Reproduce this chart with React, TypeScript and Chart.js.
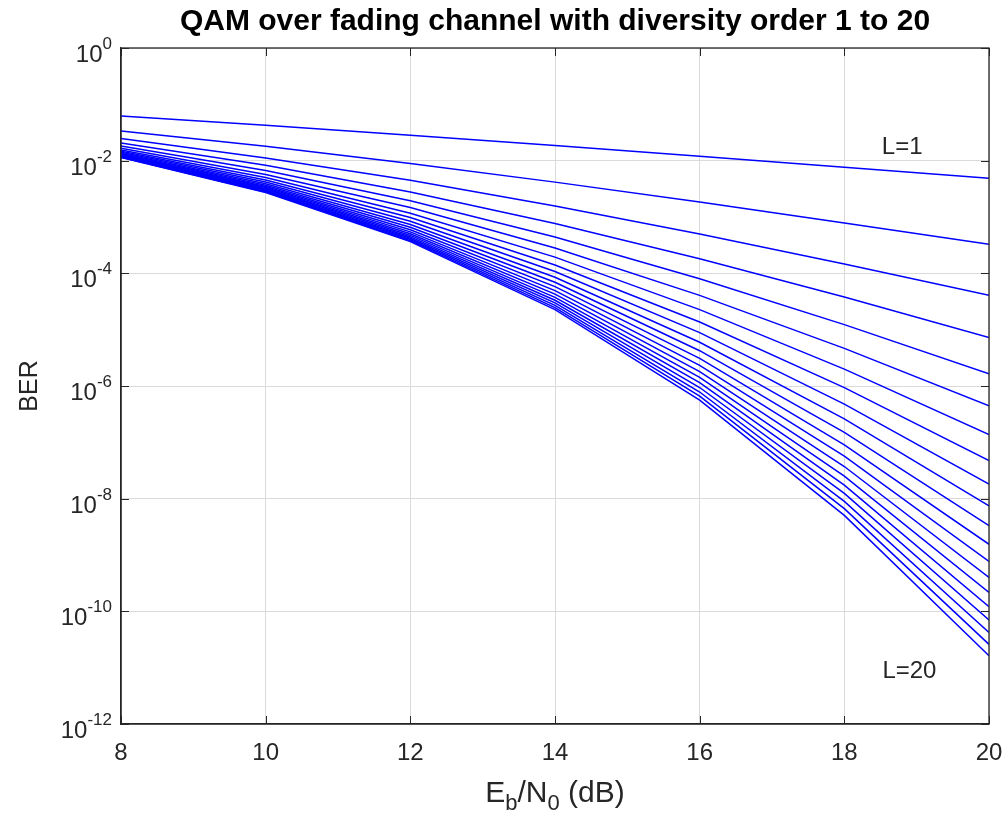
import React, { useEffect, useRef } from 'react';
import { Chart, registerables } from 'chart.js';

Chart.register(...registerables);

// Eb/N0 grid (dB)
const EBN0_DB = [8, 10, 12, 14, 16, 18, 20];

// BER, one array per diversity order L
const BER_L1 = [6.19e-2, 4.24e-2, 2.82e-2, 1.85e-2, 1.20e-2, 7.66e-3, 4.89e-3];
const BER_L2 = [3.37e-2, 1.80e-2, 8.95e-3, 4.16e-3, 1.84e-3, 7.85e-4, 3.27e-4];
const BER_L3 = [2.48e-2, 1.12e-2, 4.47e-3, 1.57e-3, 4.98e-4, 1.47e-4, 4.08e-5];
const BER_L4 = [2.06e-2, 8.32e-3, 2.77e-3, 7.67e-4, 1.82e-4, 3.81e-5, 7.28e-6];
const BER_L5 = [1.82e-2, 6.71e-3, 1.94e-3, 4.41e-4, 8.04e-5, 1.23e-5, 1.64e-6];
const BER_L6 = [1.66e-2, 5.70e-3, 1.47e-3, 2.81e-4, 4.06e-5, 4.65e-6, 4.43e-7];
const BER_L7 = [1.55e-2, 5.02e-3, 1.17e-3, 1.94e-4, 2.27e-5, 1.99e-6, 1.37e-7];
const BER_L8 = [1.47e-2, 4.54e-3, 9.77e-4, 1.41e-4, 1.37e-5, 9.35e-7, 4.75e-8];
const BER_L9 = [1.41e-2, 4.18e-3, 8.38e-4, 1.08e-4, 8.85e-6, 4.78e-7, 1.81e-8];
const BER_L10 = [1.35e-2, 3.89e-3, 7.35e-4, 8.53e-5, 5.98e-6, 2.60e-7, 7.48e-9];
const BER_L11 = [1.31e-2, 3.66e-3, 6.56e-4, 6.95e-5, 4.23e-6, 1.50e-7, 3.31e-9];
const BER_L12 = [1.28e-2, 3.48e-3, 5.94e-4, 5.81e-5, 3.09e-6, 9.04e-8, 1.55e-9];
const BER_L13 = [1.25e-2, 3.33e-3, 5.45e-4, 4.93e-5, 2.33e-6, 5.69e-8, 7.69e-10];
const BER_L14 = [1.23e-2, 3.21e-3, 5.05e-4, 4.28e-5, 1.80e-6, 3.72e-8, 3.99e-10];
const BER_L15 = [1.20e-2, 3.10e-3, 4.71e-4, 3.75e-5, 1.42e-6, 2.51e-8, 2.16e-10];
const BER_L16 = [1.19e-2, 3.00e-3, 4.43e-4, 3.33e-5, 1.15e-6, 1.74e-8, 1.21e-10];
const BER_L17 = [1.17e-2, 2.92e-3, 4.19e-4, 2.99e-5, 9.40e-7, 1.24e-8, 7.03e-11];
const BER_L18 = [1.16e-2, 2.85e-3, 3.98e-4, 2.70e-5, 7.82e-7, 8.97e-9, 4.21e-11];
const BER_L19 = [1.15e-2, 2.79e-3, 3.80e-4, 2.47e-5, 6.59e-7, 6.65e-9, 2.59e-11];
const BER_L20 = [1.14e-2, 2.73e-3, 3.65e-4, 2.27e-5, 5.62e-7, 5.04e-9, 1.63e-11];

const SERIES = [
  BER_L1, BER_L2, BER_L3, BER_L4, BER_L5, BER_L6, BER_L7, BER_L8, BER_L9, BER_L10,
  BER_L11, BER_L12, BER_L13, BER_L14, BER_L15, BER_L16, BER_L17, BER_L18, BER_L19, BER_L20,
];
const SERIES_NAMES = SERIES.map((_, i) => `L=${i + 1}`);

const X_TICKS = [8, 10, 12, 14, 16, 18, 20];
const Y_TICKS = [1, 1e-2, 1e-4, 1e-6, 1e-8, 1e-10, 1e-12];
const Y_TICK_BASE = '10';
const Y_TICK_EXPONENTS = ['0', '-2', '-4', '-6', '-8', '-10', '-12'];

const TITLE = 'QAM over fading channel with diversity order 1 to 20';
const Y_TITLE = 'BER';
const X_TITLE_PARTS: [string, boolean][] = [['E', false], ['b', true], ['/N', false], ['0', true], [' (dB)', false]];
const ANNOTATIONS = [
  { text: 'L=1', x: 18.8, y: 1.75e-2 },
  { text: 'L=20', x: 18.9, y: 8.7e-12 },
];

const FONT = '"Liberation Sans", Arial, Helvetica, sans-serif';
const TEXT = '#262626';
const AXIS = '#262626';
const GRID = '#dadada';
const LINE = '#0000ff';

const boxPlugin = {
  id: 'matlabBox',
  afterDatasetsDraw(chart: any) {
    const { ctx, chartArea } = chart;
    const { left, right, top, bottom } = chartArea;
    const xs = chart.scales.x;
    const ys = chart.scales.y;
    ctx.save();
    ctx.strokeStyle = AXIS;
    ctx.lineWidth = 1.3;
    ctx.strokeRect(left, top, right - left, bottom - top);
    const tl = 8;
    ctx.lineWidth = 1;
    ctx.beginPath();
    X_TICKS.forEach((v) => {
      const px = Math.round(xs.getPixelForValue(v)) + 0.5;
      ctx.moveTo(px, bottom);
      ctx.lineTo(px, bottom - tl);
      ctx.moveTo(px, top);
      ctx.lineTo(px, top + tl);
    });
    Y_TICKS.forEach((v) => {
      const py = Math.round(ys.getPixelForValue(v)) + 0.5;
      ctx.moveTo(left, py);
      ctx.lineTo(left + tl, py);
      ctx.moveTo(right, py);
      ctx.lineTo(right - tl, py);
    });
    ctx.stroke();

    ctx.fillStyle = TEXT;

    // y tick labels: 10 with raised exponent
    ctx.textAlign = 'right';
    ctx.textBaseline = 'alphabetic';
    Y_TICKS.forEach((v, i) => {
      const py = ys.getPixelForValue(v);
      const xr = left - 9;
      ctx.font = `17px ${FONT}`;
      const exp = Y_TICK_EXPONENTS[i];
      const ew = ctx.measureText(exp).width;
      ctx.fillText(exp, xr, py + 1);
      ctx.font = `24px ${FONT}`;
      ctx.fillText(Y_TICK_BASE, xr - ew, py + 14);
    });

    // annotations
    ctx.font = `24px ${FONT}`;
    ctx.textAlign = 'center';
    ctx.textBaseline = 'middle';
    ANNOTATIONS.forEach((a) => {
      ctx.fillText(a.text, xs.getPixelForValue(a.x), ys.getPixelForValue(a.y));
    });

    // x axis title with subscripts
    const base = 30;
    const sub = 22;
    let total = 0;
    X_TITLE_PARTS.forEach(([t, isSub]) => {
      ctx.font = `${isSub ? sub : base}px ${FONT}`;
      total += ctx.measureText(t).width;
    });
    let cx = (left + right) / 2 - total / 2;
    const baseline = 802;
    ctx.textAlign = 'left';
    ctx.textBaseline = 'alphabetic';
    X_TITLE_PARTS.forEach(([t, isSub]) => {
      ctx.font = `${isSub ? sub : base}px ${FONT}`;
      ctx.fillText(t, cx, isSub ? baseline + 8 : baseline);
      cx += ctx.measureText(t).width;
    });
    ctx.restore();
  },
};

export default function App() {
  const ref = useRef<HTMLCanvasElement | null>(null);

  useEffect(() => {
    document.body.style.margin = '0';
    const canvas = ref.current;
    if (!canvas) return;
    const chart = new Chart(canvas, {
      type: 'line',
      data: {
        datasets: SERIES.map((s, i) => ({
          label: SERIES_NAMES[i],
          data: s.map((v, j) => ({ x: EBN0_DB[j], y: v })),
          borderColor: LINE,
          backgroundColor: LINE,
          borderWidth: 1.5,
          pointRadius: 0,
          tension: 0,
          fill: false,
        })),
      },
      options: {
        responsive: false,
        animation: false,
        devicePixelRatio: 1,
        layout: { padding: { left: 0, right: 18, top: 0, bottom: 0 } },
        plugins: {
          legend: { display: false },
          tooltip: { enabled: false },
          title: {
            display: true,
            text: TITLE,
            fullSize: false,
            color: '#000000',
            font: { family: FONT, size: 30, weight: 'bold', lineHeight: 1.2 },
            padding: { top: 4, bottom: 8 },
          },
        },
        scales: {
          x: {
            type: 'linear',
            min: 8,
            max: 20,
            afterBuildTicks: (scale: any) => {
              scale.ticks = X_TICKS.map((v) => ({ value: v }));
            },
            afterFit: (scale: any) => {
              scale.height = 96;
              scale.paddingLeft = 0;
              scale.paddingRight = 0;
            },
            grid: { color: GRID, lineWidth: 1, drawTicks: false },
            border: { display: true, color: AXIS, width: 1.3 },
            ticks: {
              color: TEXT,
              font: { family: FONT, size: 24 },
              padding: 15,
              maxRotation: 0,
              callback: (v: any) => String(v),
            },
          },
          y: {
            type: 'logarithmic',
            min: 1e-12,
            max: 1,
            afterBuildTicks: (scale: any) => {
              scale.ticks = Y_TICKS.map((v) => ({ value: v }));
            },
            afterFit: (scale: any) => {
              scale.width = 121;
              scale.paddingTop = 0;
              scale.paddingBottom = 0;
            },
            grid: { color: GRID, lineWidth: 1, drawTicks: false },
            border: { display: true, color: AXIS, width: 1.3 },
            ticks: { display: false },
            title: {
              display: true,
              text: Y_TITLE,
              color: TEXT,
              font: { family: FONT, size: 25 },
              padding: { top: 15, bottom: 0 },
            },
          },
        },
      },
      plugins: [boxPlugin],
    });
    return () => chart.destroy();
  }, []);

  return (
    <div style={{ width: 1007, height: 820 }}>
      <canvas ref={ref} width={1007} height={820} style={{ display: 'block' }} />
    </div>
  );
}
